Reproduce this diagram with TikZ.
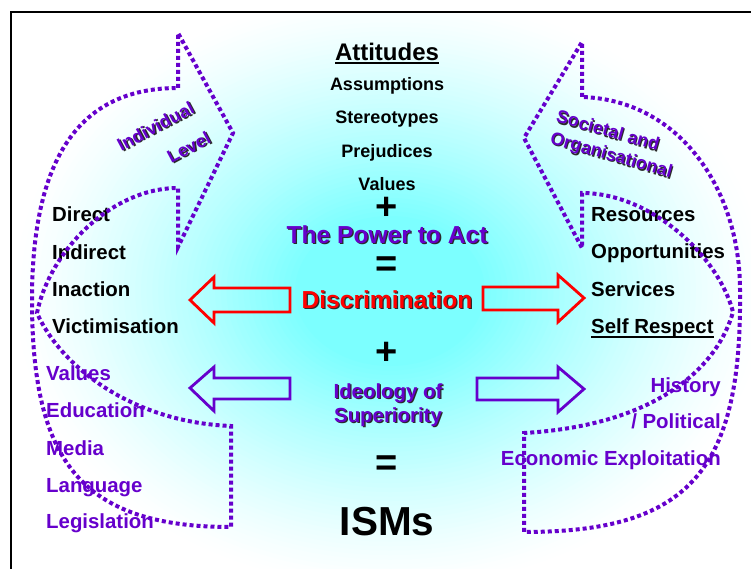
\documentclass[tikz,border=0pt]{standalone}
\usepackage{fontspec}
\setmainfont{Liberation Sans}
\definecolor{pur}{HTML}{6600CC}
\definecolor{bgc}{HTML}{7CFFFF}
\definecolor{shc}{HTML}{2A2A2A}
\newcommand\shd[1]{\rlap{\kern1.3pt\raisebox{-1.3pt}{\textcolor{shc}{#1}}}#1}
\newcommand\myul[2][3pt]{\setbox0\hbox{#2}\rlap{\rule[-#1]{\wd0}{1.8pt}}\box0}
\begin{document}
\begin{tikzpicture}[x=1pt,y=-1pt,
  dotl/.style={draw=pur, line width=4pt, dash pattern=on 4pt off 3pt, line join=miter},
  blk/.style={line width=2.8pt, line join=miter},
  ctr/.style={anchor=base, inner sep=0pt},
  lft/.style={anchor=base west, inner sep=0pt},
  rgt/.style={anchor=base east, inner sep=0pt},
  sym/.style={anchor=center, inner sep=0pt, font=\bfseries\fontsize{38}{40}\selectfont},
  tA/.style={font=\bfseries\fontsize{18}{20}\selectfont},
  tB/.style={font=\bfseries\fontsize{20.4}{24}\selectfont},
  tC/.style={font=\bfseries\fontsize{24.6}{28}\selectfont},
  tR/.style={text=pur, inner sep=0pt, align=left}]
\useasboundingbox (0,0) rectangle (751,569);
\clip (0,0) rectangle (751,569);
\begin{scope}
  \clip (11,12) rectangle (769,570);
  \fill[white] (11,12) rectangle (769,570);
  \foreach \i in {0,...,50}{
    \pgfmathsetmacro\myt{1-\i*0.015}
    \pgfmathsetmacro\pc{100*(\i/50)^1.3}
    \fill[bgc!\pc!white] (390,291) ellipse ({380*\myt pt} and {300*\myt pt});
  }
\end{scope}
\draw[line width=1.5pt] (11,12) rectangle (769,570);

% centre column
\node[ctr, font=\bfseries\fontsize{24}{28}\selectfont] (att) at (387,61) {\myul[3.2pt]{Attitudes}};
\node[ctr, tA] (ass) at (387,91) {Assumptions};
\node[ctr, tA] (ste) at (387,124) {Stereotypes};
\node[ctr, tA] (pre) at (387,158) {Prejudices};
\node[ctr, tA] (val) at (387,191) {Values};
\node[sym] (plus1) at (387,208) {+};
\node[ctr, tC, text=pur] (pow) at (387,243) {\shd{The Power to Act}};
\node[sym] (eq1) at (387,267) {=};
\node[ctr, tC, text=red] (dis) at (387,308) {\shd{Discrimination}};
\node[sym] (plus2) at (387,353) {+};
\node[ctr, tB, text=pur] (ide) at (388,398) {\shd{Ideology of}};
\node[ctr, tB, text=pur] (sup) at (388,422) {\shd{Superiority}};
\node[sym] (eq2) at (387,466) {=};
\node[ctr, font=\bfseries\fontsize{40.5}{44}\selectfont] (isms) at (387,535) {ISMs};

% left lists
\node[lft, tB] (l1) at (52,222) {Direct};
\node[lft, tB] (l2) at (52,259) {Indirect};
\node[lft, tB] (l3) at (52,296) {Inaction};
\node[lft, tB] (l4) at (52,333) {Victimisation};
\node[lft, tB, text=pur] (p1) at (46,380) {Values};
\node[lft, tB, text=pur] (p2) at (46,417) {Education};
\node[lft, tB, text=pur] (p3) at (46,455) {Media};
\node[lft, tB, text=pur] (p4) at (46,492) {Language};
\node[lft, tB, text=pur] (p5) at (46,528) {Legislation};

% right lists
\node[lft, tB] (r1) at (591,222) {Resources};
\node[lft, tB] (r2) at (591,258) {Opportunities};
\node[lft, tB] (r3) at (591,296) {Services};
\node[lft, tB] (r4) at (591,333) {\myul[4.9pt]{Self Respect}};
\node[rgt, tB, text=pur] (q1) at (721,392) {History};
\node[rgt, tB, text=pur] (q2) at (721,428) {/ Political};
\node[rgt, tB, text=pur] (q3) at (721,465) {Economic Exploitation};

% rotated labels
\node[tR, rotate=28, font=\bfseries\fontsize{18}{34}\selectfont] (ind) at (164,142)
  {\shd{Individual}\\\hspace*{38.5pt}\shd{Level}};
\node[tR, rotate=-16, font=\bfseries\fontsize{18}{22.4}\selectfont] (soc) at (614,146)
  {\shd{Societal and}\\\shd{Organisational}};

% block arrows
\draw[blk, red] (290,288) -- (214,288) -- (214,277) -- (190,300) -- (214,323) -- (214,312) -- (290,312) -- cycle;
\draw[blk, red] (483,287) -- (558,287) -- (558,275) -- (584,298) -- (558,322) -- (558,310) -- (483,310) -- cycle;
\draw[blk, pur] (290,378) -- (214,378) -- (214,367) -- (190,388) -- (214,411) -- (214,399) -- (290,399) -- cycle;
\draw[blk, pur] (477,378) -- (558,378) -- (558,367) -- (584,389) -- (558,412) -- (558,400) -- (477,400) -- cycle;

% curved dotted arrows
\draw[dotl] (178,88) -- (178,33) -- (233,133) -- (178,247) -- (178,188)
  .. controls (112,188) and (50,250) .. (37,313)
  .. controls (60,365) and (130,422) .. (231,426) -- (231,527)
  .. controls (80,527) and (32,460) .. (32,300)
  .. controls (32,150) and (85,88) .. (178,88) -- cycle;
\draw[dotl] (582,97) -- (582,42) -- (524,138) -- (582,248) -- (582,193)
  .. controls (650,193) and (718,255) .. (733,312)
  .. controls (718,365) and (660,425) .. (524,433) -- (524,532)
  .. controls (690,532) and (742,470) .. (740,290)
  .. controls (740,190) and (680,100) .. (582,97) -- cycle;
\end{tikzpicture}
\end{document}
